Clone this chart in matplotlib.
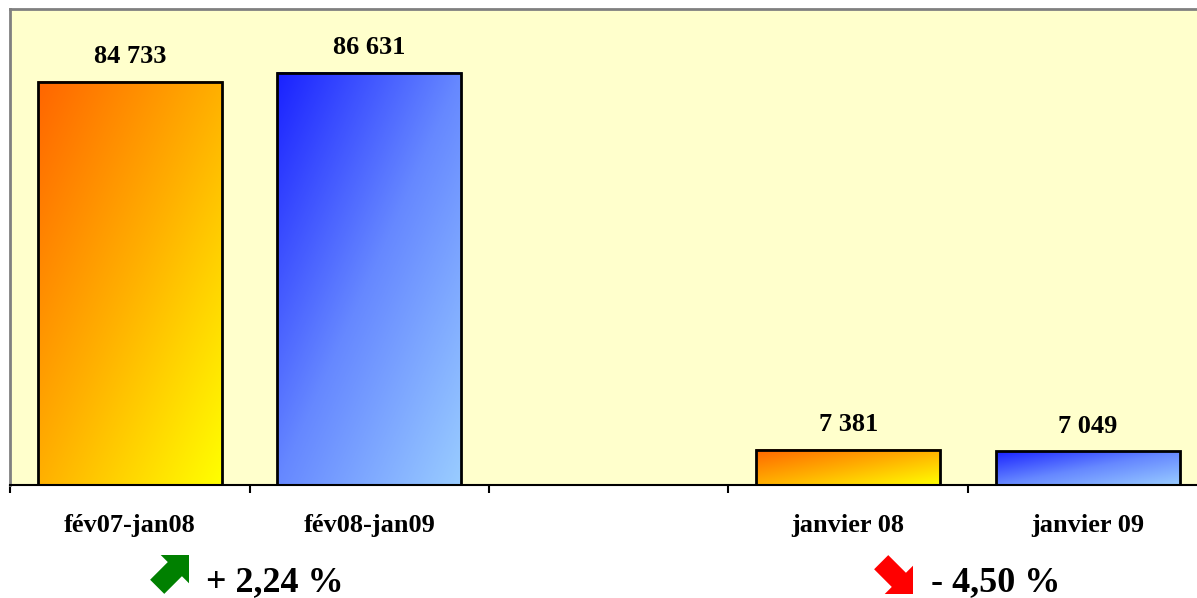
import matplotlib
matplotlib.use("Agg")
import matplotlib.pyplot as plt
import numpy as np
from matplotlib.colors import LinearSegmentedColormap
from matplotlib.patches import Polygon
from matplotlib.transforms import Affine2D

categories = ["fév07-jan08", "fév08-jan09", "", "janvier 08", "janvier 09"]
values = [84733, 86631, None, 7381, 7049]
series = ["old", "new", None, "old", "new"]
changes = ["+ 2,24 %", "- 4,50 %"]

W, H = 1197, 598
fig = plt.figure(figsize=(W / 100, H / 100), dpi=100)
fig.patch.set_facecolor("white")

left, right, top, bottom = 10, 1207.5, 9, 485
ax = fig.add_axes([left / W, (H - bottom) / H, (right - left) / W, (bottom - top) / H])
ax.set_facecolor("#FFFFCC")

cmaps = {
    "old": LinearSegmentedColormap.from_list("old", ["#FF6600", "#FFB000", "#FFFF00"]),
    "new": LinearSegmentedColormap.from_list("new", ["#1A22FF", "#6688FF", "#99CCFF"]),
}

# diagonal gradient, top-left -> bottom-right
gx, gy = np.meshgrid(np.linspace(0, 1, 100), np.linspace(0, 1, 100))
grad = (gx + gy) / 2

bw = 0.77
font = "Liberation Serif"
for i, (v, s) in enumerate(zip(values, series)):
    if v is None:
        continue
    ax.imshow(grad, cmap=cmaps[s], extent=[i - bw / 2, i + bw / 2, 0, v],
              origin="upper", aspect="auto", zorder=2, interpolation="bilinear")
    ax.bar(i, v, width=bw, facecolor="none", edgecolor="black", linewidth=2, zorder=3)
    ax.annotate(f"{v:,}".replace(",", " "), (i, v), xytext=(0, 13.5),
                textcoords="offset points", ha="center", va="baseline",
                fontsize=19, fontweight="bold", family=font)

ax.set_xlim(-0.5, 4.5)
ax.set_ylim(0, 100000)

ax.spines["right"].set_visible(False)
ax.spines["top"].set_color("#808080")
ax.spines["left"].set_color("#808080")
ax.spines["top"].set_linewidth(2)
ax.spines["left"].set_linewidth(2)
ax.spines["bottom"].set_linewidth(1.5)
ax.set_yticks([])
ax.set_xticks(np.arange(-0.5, 5, 1))
ax.set_xticklabels([])
ax.tick_params(axis="x", which="major", direction="out", length=6, width=1.5)
ax.set_xticks([0, 1, 3, 4], minor=True)
ax.set_xticklabels([c for c in categories if c], minor=True,
                   fontsize=19, fontweight="bold", family=font)
ax.tick_params(axis="x", which="minor", length=0, pad=21)


def arrow(tx, ty, angle, color):
    # tip at pixel (tx, ty) measured from the top-left corner
    L, h, s = 45, 20, 10
    pts = [(-L, -s), (-h, -s), (-h, -h), (0, 0), (-h, h), (-h, s), (-L, s)]
    tr = Affine2D().rotate_deg(angle).translate(tx, H - ty).scale(1 / 100)
    p = Polygon(pts, closed=True, facecolor=color, edgecolor="none",
                transform=tr + fig.dpi_scale_trans, zorder=5)
    fig.add_artist(p)


arrow(189, 555, 45, "#008000")
arrow(913, 594, -45, "#FF0000")

fig.text(206 / W, (H - 591) / H, changes[0], fontsize=26, fontweight="bold",
         family=font, ha="left", va="baseline")
fig.text(931 / W, (H - 591) / H, changes[1], fontsize=26, fontweight="bold",
         family=font, ha="left", va="baseline")

fig.savefig("out.png", dpi=100)
